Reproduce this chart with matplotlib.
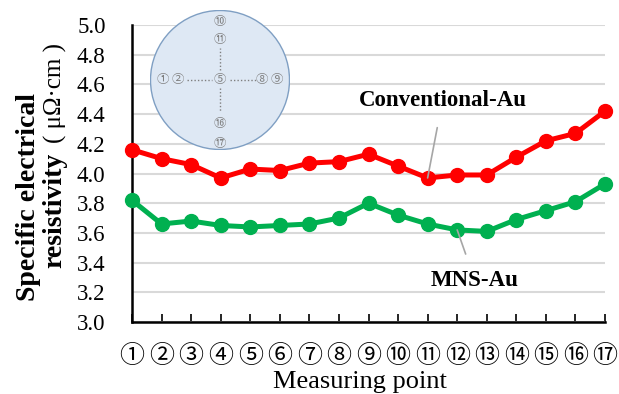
import matplotlib
matplotlib.use("Agg")
import matplotlib.pyplot as plt
from matplotlib.patches import Circle

# measuring points 1..17
points = list(range(1, 18))
tick_labels = ["①", "②", "③", "④", "⑤", "⑥", "⑦", "⑧", "⑨", "⑩",
               "⑪", "⑫", "⑬", "⑭", "⑮", "⑯", "⑰"]
conventional_au = [4.16, 4.10, 4.06, 3.97, 4.03, 4.02, 4.07, 4.08, 4.13,
                   4.05, 3.97, 3.99, 3.99, 4.11, 4.22, 4.27, 4.42]
mns_au = [3.82, 3.66, 3.68, 3.65, 3.64, 3.65, 3.66, 3.70, 3.80,
          3.72, 3.66, 3.62, 3.61, 3.69, 3.75, 3.81, 3.93]

serif = ["Liberation Serif", "DejaVu Serif"]
cjk = ["Noto Sans CJK JP", "DejaVu Sans"]

fig = plt.figure(figsize=(6.19, 3.94), dpi=100)
W, H = 619, 394
ax = fig.add_axes([132 / W, 1 - 322 / H, (605 - 132) / W, (322 - 25) / H])

ax.plot(points, conventional_au, color="#FF0000", lw=3.6, marker="o", ms=10, zorder=3, clip_on=False)
ax.plot(points, mns_au, color="#00B050", lw=3.6, marker="o", ms=10, zorder=3, clip_on=False)

ax.set_xlim(1, 17)
ax.set_ylim(3.0, 5.0)
ax.set_yticks([3.0, 3.2, 3.4, 3.6, 3.8, 4.0, 4.2, 4.4, 4.6, 4.8, 5.0])
ax.set_yticklabels(["%.1f" % v for v in ax.get_yticks()], family=serif, fontsize=16.5)
ax.set_xticks(points)
ax.set_xticklabels(tick_labels, family=cjk, fontsize=18)
ax.tick_params(axis="x", direction="in", length=6, width=1.2, pad=15)
ax.tick_params(axis="y", length=0, pad=19)
ax.grid(axis="y", color="#D9D9D9", lw=1.5)
ax.set_axisbelow(True)
for s in ["top", "right"]:
    ax.spines[s].set_visible(False)
ax.spines["left"].set_linewidth(1.8)
ax.spines["bottom"].set_linewidth(1.8)

fig.text(360 / W, 1 - 388 / H, "Measuring point", family=serif, fontsize=19,
         ha="center", va="baseline")

# y label in two lines
fig.text(29 / W, 1 - 197 / H, "Specific electrical", rotation=90, family=serif,
         fontsize=20, fontweight="bold", ha="center", va="center")
fig.text(55 / W, 1 - 268 / H, "resistivity", rotation=90, family=serif,
         fontsize=20, fontweight="bold", ha="center", va="bottom")
fig.text(55 / W, 1 - 93 / H, "( μΩ·cm )", rotation=90, family=serif,
         fontsize=18, ha="center", va="center")

# series labels with leader lines
ax.annotate("Conventional-Au", xy=(11, 3.97), xytext=(11.5, 4.49),
            family=serif, fontsize=16.5, fontweight="bold", ha="center", va="center",
            arrowprops=dict(arrowstyle="-", color="#A6A6A6", lw=1.2, shrinkA=10, shrinkB=0))
ax.annotate("MNS-Au", xy=(12, 3.62), xytext=(12.6, 3.28),
            family=serif, fontsize=16.5, fontweight="bold", ha="center", va="center",
            arrowprops=dict(arrowstyle="-", color="#A6A6A6", lw=1.2, shrinkA=10, shrinkB=0))

# wafer map inset
cx, cy, r = 220, 80, 70
inset = fig.add_axes([(cx - r) / W, 1 - (cy + r) / H, 2 * r / W, 2 * r / H])
inset.set_xlim(-r, r)
inset.set_ylim(-r, r)
inset.axis("off")
inset.add_patch(Circle((0, 0), r - 0.5, facecolor="#DEE8F4", edgecolor="#7F9FC3", lw=1.0))
inset_labels = [("⑩", 0, 59), ("⑪", 0, 40), ("①", -57, 0), ("②", -42, 0), ("⑤", 0, 0),
                ("⑧", 42, 0), ("⑨", 57, 0), ("⑯", 0, -44), ("⑰", 0, -63)]
for t, x, y in inset_labels:
    inset.text(x, y, t, family=cjk, fontsize=9, color="#7F7F7F", ha="center", va="center")
inset.plot([-33, -8], [0, 0], color="#7F7F7F", lw=1, ls=(0, (1, 1.5)))
inset.plot([10, 36], [0, 0], color="#7F7F7F", lw=1, ls=(0, (1, 1.5)))
inset.plot([0, 0], [10, 32], color="#7F7F7F", lw=1, ls=(0, (1, 1.5)))
inset.plot([0, 0], [-8, -32], color="#7F7F7F", lw=1, ls=(0, (1, 1.5)))

fig.savefig("out.png", dpi=100)
